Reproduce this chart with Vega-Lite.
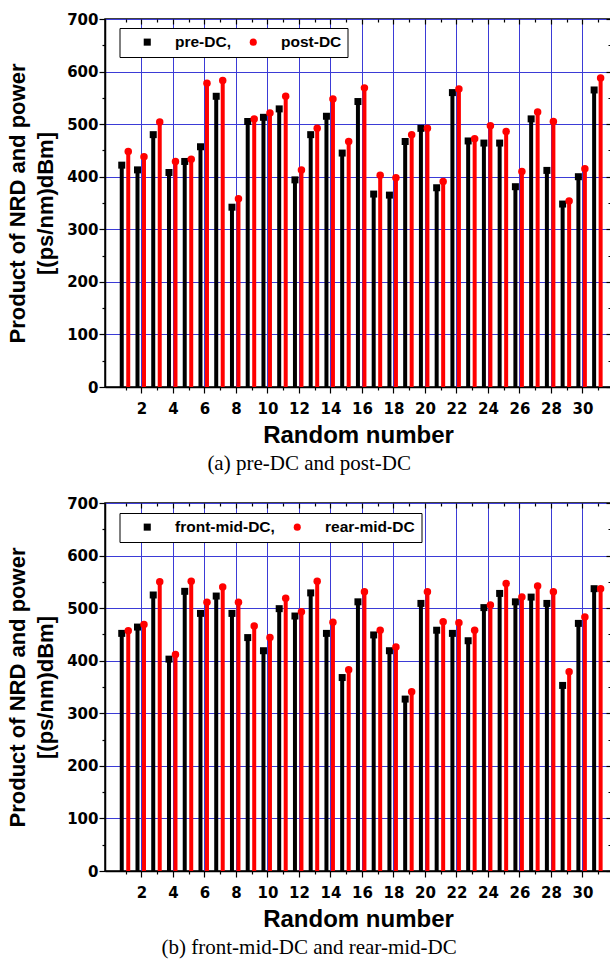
{
  "$schema": "https://vega.github.io/schema/vega-lite/v6.json",
  "background": "white",
  "padding": {"left": 5, "top": 11, "right": 0, "bottom": 0},
  "spacing": 20,
  "datasets": {
    "a": [
      {"n":1,"series":"pre-DC","value":422},{"n":2,"series":"pre-DC","value":413},{"n":3,"series":"pre-DC","value":480},{"n":4,"series":"pre-DC","value":408},{"n":5,"series":"pre-DC","value":429},{"n":6,"series":"pre-DC","value":457},{"n":7,"series":"pre-DC","value":553},{"n":8,"series":"pre-DC","value":342},{"n":9,"series":"pre-DC","value":505},{"n":10,"series":"pre-DC","value":513},{"n":11,"series":"pre-DC","value":529},{"n":12,"series":"pre-DC","value":394},{"n":13,"series":"pre-DC","value":480},{"n":14,"series":"pre-DC","value":515},{"n":15,"series":"pre-DC","value":445},{"n":16,"series":"pre-DC","value":543},{"n":17,"series":"pre-DC","value":367},{"n":18,"series":"pre-DC","value":365},{"n":19,"series":"pre-DC","value":467},{"n":20,"series":"pre-DC","value":492},{"n":21,"series":"pre-DC","value":379},{"n":22,"series":"pre-DC","value":560},{"n":23,"series":"pre-DC","value":468},{"n":24,"series":"pre-DC","value":464},{"n":25,"series":"pre-DC","value":464},{"n":26,"series":"pre-DC","value":381},{"n":27,"series":"pre-DC","value":510},{"n":28,"series":"pre-DC","value":412},{"n":29,"series":"pre-DC","value":348},{"n":30,"series":"pre-DC","value":400},{"n":31,"series":"pre-DC","value":565},
      {"n":1,"series":"post-DC","value":448},{"n":2,"series":"post-DC","value":438},{"n":3,"series":"post-DC","value":504},{"n":4,"series":"post-DC","value":429},{"n":5,"series":"post-DC","value":433},{"n":6,"series":"post-DC","value":578},{"n":7,"series":"post-DC","value":583},{"n":8,"series":"post-DC","value":358},{"n":9,"series":"post-DC","value":510},{"n":10,"series":"post-DC","value":521},{"n":11,"series":"post-DC","value":553},{"n":12,"series":"post-DC","value":413},{"n":13,"series":"post-DC","value":492},{"n":14,"series":"post-DC","value":548},{"n":15,"series":"post-DC","value":467},{"n":16,"series":"post-DC","value":569},{"n":17,"series":"post-DC","value":403},{"n":18,"series":"post-DC","value":398},{"n":19,"series":"post-DC","value":480},{"n":20,"series":"post-DC","value":492},{"n":21,"series":"post-DC","value":391},{"n":22,"series":"post-DC","value":567},{"n":23,"series":"post-DC","value":472},{"n":24,"series":"post-DC","value":497},{"n":25,"series":"post-DC","value":486},{"n":26,"series":"post-DC","value":410},{"n":27,"series":"post-DC","value":523},{"n":28,"series":"post-DC","value":505},{"n":29,"series":"post-DC","value":354},{"n":30,"series":"post-DC","value":415},{"n":31,"series":"post-DC","value":588}
    ],
    "b": [
      {"n":1,"series":"front-mid-DC","value":452},{"n":2,"series":"front-mid-DC","value":464},{"n":3,"series":"front-mid-DC","value":525},{"n":4,"series":"front-mid-DC","value":403},{"n":5,"series":"front-mid-DC","value":532},{"n":6,"series":"front-mid-DC","value":490},{"n":7,"series":"front-mid-DC","value":523},{"n":8,"series":"front-mid-DC","value":490},{"n":9,"series":"front-mid-DC","value":444},{"n":10,"series":"front-mid-DC","value":419},{"n":11,"series":"front-mid-DC","value":499},{"n":12,"series":"front-mid-DC","value":485},{"n":13,"series":"front-mid-DC","value":529},{"n":14,"series":"front-mid-DC","value":452},{"n":15,"series":"front-mid-DC","value":368},{"n":16,"series":"front-mid-DC","value":512},{"n":17,"series":"front-mid-DC","value":449},{"n":18,"series":"front-mid-DC","value":419},{"n":19,"series":"front-mid-DC","value":327},{"n":20,"series":"front-mid-DC","value":509},{"n":21,"series":"front-mid-DC","value":458},{"n":22,"series":"front-mid-DC","value":452},{"n":23,"series":"front-mid-DC","value":438},{"n":24,"series":"front-mid-DC","value":501},{"n":25,"series":"front-mid-DC","value":528},{"n":26,"series":"front-mid-DC","value":512},{"n":27,"series":"front-mid-DC","value":521},{"n":28,"series":"front-mid-DC","value":509},{"n":29,"series":"front-mid-DC","value":353},{"n":30,"series":"front-mid-DC","value":471},{"n":31,"series":"front-mid-DC","value":537},
      {"n":1,"series":"rear-mid-DC","value":457},{"n":2,"series":"rear-mid-DC","value":469},{"n":3,"series":"rear-mid-DC","value":550},{"n":4,"series":"rear-mid-DC","value":412},{"n":5,"series":"rear-mid-DC","value":551},{"n":6,"series":"rear-mid-DC","value":511},{"n":7,"series":"rear-mid-DC","value":540},{"n":8,"series":"rear-mid-DC","value":511},{"n":9,"series":"rear-mid-DC","value":466},{"n":10,"series":"rear-mid-DC","value":444},{"n":11,"series":"rear-mid-DC","value":519},{"n":12,"series":"rear-mid-DC","value":493},{"n":13,"series":"rear-mid-DC","value":551},{"n":14,"series":"rear-mid-DC","value":473},{"n":15,"series":"rear-mid-DC","value":383},{"n":16,"series":"rear-mid-DC","value":531},{"n":17,"series":"rear-mid-DC","value":458},{"n":18,"series":"rear-mid-DC","value":426},{"n":19,"series":"rear-mid-DC","value":341},{"n":20,"series":"rear-mid-DC","value":531},{"n":21,"series":"rear-mid-DC","value":474},{"n":22,"series":"rear-mid-DC","value":472},{"n":23,"series":"rear-mid-DC","value":458},{"n":24,"series":"rear-mid-DC","value":506},{"n":25,"series":"rear-mid-DC","value":547},{"n":26,"series":"rear-mid-DC","value":521},{"n":27,"series":"rear-mid-DC","value":542},{"n":28,"series":"rear-mid-DC","value":531},{"n":29,"series":"rear-mid-DC","value":379},{"n":30,"series":"rear-mid-DC","value":483},{"n":31,"series":"rear-mid-DC","value":537}
    ]
  },
  "config": {
    "view": {"stroke": "black", "strokeWidth": 1.5},
    "axis": {
      "labelFont": "DejaVu Sans", "labelFontWeight": "bold", "labelFontSize": 15, "labelColor": "black",
      "domainColor": "black", "domainWidth": 1.5, "tickColor": "black", "tickWidth": 1.2,
      "titleFont": "Liberation Sans", "titleFontWeight": "bold", "titleColor": "black",
      "labelOverlap": false, "labelFlush": false
    },
    "title": {"font": "Liberation Serif", "fontSize": 21, "fontWeight": "normal", "color": "black", "orient": "bottom", "anchor": "middle", "frame": "bounds", "offset": 6}
  },
  "resolve": {"scale": {"color": "independent", "shape": "independent"}, "legend": {"color": "independent", "shape": "independent"}},
  "vconcat": [
    {
      "width": 506, "height": 368,
      "data": {"name": "a"},
      "title": {"text": "(a) pre-DC and post-DC"},
      "resolve": {"axis": {"x": "independent", "y": "independent"}},
      "layer": [
        {
          "transform": [{"filter": "datum.series === 'pre-DC'"}],
          "mark": {"type": "bar", "orient": "vertical", "width": 4, "xOffset": -4, "color": "#000000"},
          "encoding": {
            "x": {"field": "n", "type": "quantitative", "scale": {"domain": [0, 31.5], "nice": false, "zero": false},
              "axis": {"values": [1,2,3,4,5,6,7,8,9,10,11,12,13,14,15,16,17,18,19,20,21,22,23,24,25,26,27,28,29,30,31],
                "labelExpr": "datum.value % 2 === 0 ? datum.label : ''",
                "tickSize": {"condition": {"test": "datum.value % 2 === 1", "value": 3}, "value": 6},
                "grid": true, "gridColor": "#3b3bd6", "gridWidth": 1,
                "gridOpacity": {"condition": {"test": "datum.value % 2 === 1", "value": 0}, "value": 1},
                "labelPadding": 8, "title": "Random number", "titleFontSize": 24, "titlePadding": 7}},
            "y": {"field": "value", "type": "quantitative", "scale": {"domain": [0, 700], "nice": false},
              "axis": {"values": [0,50,100,150,200,250,300,350,400,450,500,550,600,650,700],
                "labelExpr": "datum.value % 100 === 0 ? datum.label : ''",
                "tickSize": {"condition": {"test": "datum.value % 100 === 50", "value": 3}, "value": 6},
                "grid": true, "gridColor": "#3b3bd6", "gridWidth": 1,
                "gridOpacity": {"condition": {"test": "datum.value % 100 === 50", "value": 0}, "value": 1},
                "labelPadding": 1, "title": ["Product of NRD and power", "[(ps/nm)dBm]"], "titleFontSize": 22, "titleLineHeight": 28, "titlePadding": 9}}
          }
        },
        {
          "transform": [{"filter": "datum.series === 'post-DC'"}],
          "mark": {"type": "bar", "orient": "vertical", "width": 4, "xOffset": 2.5, "color": "#ff0000"},
          "encoding": {
            "x": {"field": "n", "type": "quantitative",
              "axis": {"orient": "top", "values": [1,2,3,4,5,6,7,8,9,10,11,12,13,14,15,16,17,18,19,20,21,22,23,24,25,26,27,28,29,30,31],
                "labels": false, "title": null, "grid": false, "domain": false,
                "tickSize": {"condition": {"test": "datum.value % 2 === 1", "value": -3}, "value": -5}}},
            "y": {"field": "value", "type": "quantitative",
              "axis": {"orient": "right", "values": [0,50,100,150,200,250,300,350,400,450,500,550,600,650,700],
                "labels": false, "title": null, "grid": false, "domain": false,
                "tickSize": {"condition": {"test": "datum.value % 100 === 50", "value": -3}, "value": -5}}}
          }
        },
        {
          "transform": [{"filter": "datum.series === 'pre-DC'"}],
          "mark": {"type": "point", "filled": true, "opacity": 1, "size": 49, "xOffset": -4},
          "encoding": {
            "x": {"field": "n", "type": "quantitative", "axis": null},
            "y": {"field": "value", "type": "quantitative", "axis": null},
            "color": {"field": "series", "type": "nominal", "scale": {"domain": ["pre-DC", "post-DC"], "range": ["#000000", "#ff0000"]},
              "legend": {"title": null, "orient": "none", "legendX": 14.5, "legendY": 9, "direction": "horizontal", "padding": 6, "fillColor": "white", "strokeColor": "black",
                "labelFont": "Liberation Sans", "labelFontWeight": "bold", "labelFontSize": 15.5, "labelColor": "black", "symbolSize": 50, "symbolOffset": 14, "labelOffset": 20, "columnPadding": 0,
                "labelExpr": "datum.label === 'pre-DC' ? 'pre-DC,' : datum.label"}},
            "shape": {"field": "series", "type": "nominal", "scale": {"domain": ["pre-DC", "post-DC"], "range": ["square", "circle"]},
              "legend": {"title": null, "orient": "none", "legendX": 14.5, "legendY": 9, "direction": "horizontal", "padding": 6, "fillColor": "white", "strokeColor": "black",
                "labelFont": "Liberation Sans", "labelFontWeight": "bold", "labelFontSize": 15.5, "labelColor": "black", "symbolSize": 50, "symbolOffset": 14, "labelOffset": 20, "columnPadding": 0,
                "labelExpr": "datum.label === 'pre-DC' ? 'pre-DC,' : datum.label"}}
          }
        },
        {
          "transform": [{"filter": "datum.series === 'post-DC'"}],
          "mark": {"type": "point", "filled": true, "opacity": 1, "size": 56, "xOffset": 2.5},
          "encoding": {
            "x": {"field": "n", "type": "quantitative", "axis": null},
            "y": {"field": "value", "type": "quantitative", "axis": null},
            "color": {"field": "series", "type": "nominal", "scale": {"domain": ["pre-DC", "post-DC"], "range": ["#000000", "#ff0000"]}},
            "shape": {"field": "series", "type": "nominal", "scale": {"domain": ["pre-DC", "post-DC"], "range": ["square", "circle"]}}
          }
        }
      ]
    },
    {
      "width": 506, "height": 368,
      "data": {"name": "b"},
      "title": {"text": "(b) front-mid-DC and rear-mid-DC"},
      "resolve": {"axis": {"x": "independent", "y": "independent"}},
      "layer": [
        {
          "transform": [{"filter": "datum.series === 'front-mid-DC'"}],
          "mark": {"type": "bar", "orient": "vertical", "width": 4, "xOffset": -4, "color": "#000000"},
          "encoding": {
            "x": {"field": "n", "type": "quantitative", "scale": {"domain": [0, 31.5], "nice": false, "zero": false},
              "axis": {"values": [1,2,3,4,5,6,7,8,9,10,11,12,13,14,15,16,17,18,19,20,21,22,23,24,25,26,27,28,29,30,31],
                "labelExpr": "datum.value % 2 === 0 ? datum.label : ''",
                "tickSize": {"condition": {"test": "datum.value % 2 === 1", "value": 3}, "value": 6},
                "grid": true, "gridColor": "#3b3bd6", "gridWidth": 1,
                "gridOpacity": {"condition": {"test": "datum.value % 2 === 1", "value": 0}, "value": 1},
                "labelPadding": 8, "title": "Random number", "titleFontSize": 24, "titlePadding": 7}},
            "y": {"field": "value", "type": "quantitative", "scale": {"domain": [0, 700], "nice": false},
              "axis": {"values": [0,50,100,150,200,250,300,350,400,450,500,550,600,650,700],
                "labelExpr": "datum.value % 100 === 0 ? datum.label : ''",
                "tickSize": {"condition": {"test": "datum.value % 100 === 50", "value": 3}, "value": 6},
                "grid": true, "gridColor": "#3b3bd6", "gridWidth": 1,
                "gridOpacity": {"condition": {"test": "datum.value % 100 === 50", "value": 0}, "value": 1},
                "labelPadding": 1, "title": ["Product of NRD and power", "[(ps/nm)dBm]"], "titleFontSize": 22, "titleLineHeight": 28, "titlePadding": 9}}
          }
        },
        {
          "transform": [{"filter": "datum.series === 'rear-mid-DC'"}],
          "mark": {"type": "bar", "orient": "vertical", "width": 4, "xOffset": 2.5, "color": "#ff0000"},
          "encoding": {
            "x": {"field": "n", "type": "quantitative",
              "axis": {"orient": "top", "values": [1,2,3,4,5,6,7,8,9,10,11,12,13,14,15,16,17,18,19,20,21,22,23,24,25,26,27,28,29,30,31],
                "labels": false, "title": null, "grid": false, "domain": false,
                "tickSize": {"condition": {"test": "datum.value % 2 === 1", "value": -3}, "value": -5}}},
            "y": {"field": "value", "type": "quantitative",
              "axis": {"orient": "right", "values": [0,50,100,150,200,250,300,350,400,450,500,550,600,650,700],
                "labels": false, "title": null, "grid": false, "domain": false,
                "tickSize": {"condition": {"test": "datum.value % 100 === 50", "value": -3}, "value": -5}}}
          }
        },
        {
          "transform": [{"filter": "datum.series === 'front-mid-DC'"}],
          "mark": {"type": "point", "filled": true, "opacity": 1, "size": 49, "xOffset": -4},
          "encoding": {
            "x": {"field": "n", "type": "quantitative", "axis": null},
            "y": {"field": "value", "type": "quantitative", "axis": null},
            "color": {"field": "series", "type": "nominal", "scale": {"domain": ["front-mid-DC", "rear-mid-DC"], "range": ["#000000", "#ff0000"]},
              "legend": {"title": null, "orient": "none", "legendX": 14.5, "legendY": 10, "direction": "horizontal", "padding": 6, "fillColor": "white", "strokeColor": "black",
                "labelFont": "Liberation Sans", "labelFontWeight": "bold", "labelFontSize": 15.5, "labelColor": "black", "symbolSize": 50, "symbolOffset": 14, "labelOffset": 20, "columnPadding": 0,
                "labelExpr": "datum.label === 'front-mid-DC' ? 'front-mid-DC,' : datum.label"}},
            "shape": {"field": "series", "type": "nominal", "scale": {"domain": ["front-mid-DC", "rear-mid-DC"], "range": ["square", "circle"]},
              "legend": {"title": null, "orient": "none", "legendX": 14.5, "legendY": 10, "direction": "horizontal", "padding": 6, "fillColor": "white", "strokeColor": "black",
                "labelFont": "Liberation Sans", "labelFontWeight": "bold", "labelFontSize": 15.5, "labelColor": "black", "symbolSize": 50, "symbolOffset": 14, "labelOffset": 20, "columnPadding": 0,
                "labelExpr": "datum.label === 'front-mid-DC' ? 'front-mid-DC,' : datum.label"}}
          }
        },
        {
          "transform": [{"filter": "datum.series === 'rear-mid-DC'"}],
          "mark": {"type": "point", "filled": true, "opacity": 1, "size": 56, "xOffset": 2.5},
          "encoding": {
            "x": {"field": "n", "type": "quantitative", "axis": null},
            "y": {"field": "value", "type": "quantitative", "axis": null},
            "color": {"field": "series", "type": "nominal", "scale": {"domain": ["front-mid-DC", "rear-mid-DC"], "range": ["#000000", "#ff0000"]}},
            "shape": {"field": "series", "type": "nominal", "scale": {"domain": ["front-mid-DC", "rear-mid-DC"], "range": ["square", "circle"]}}
          }
        }
      ]
    }
  ]
}
